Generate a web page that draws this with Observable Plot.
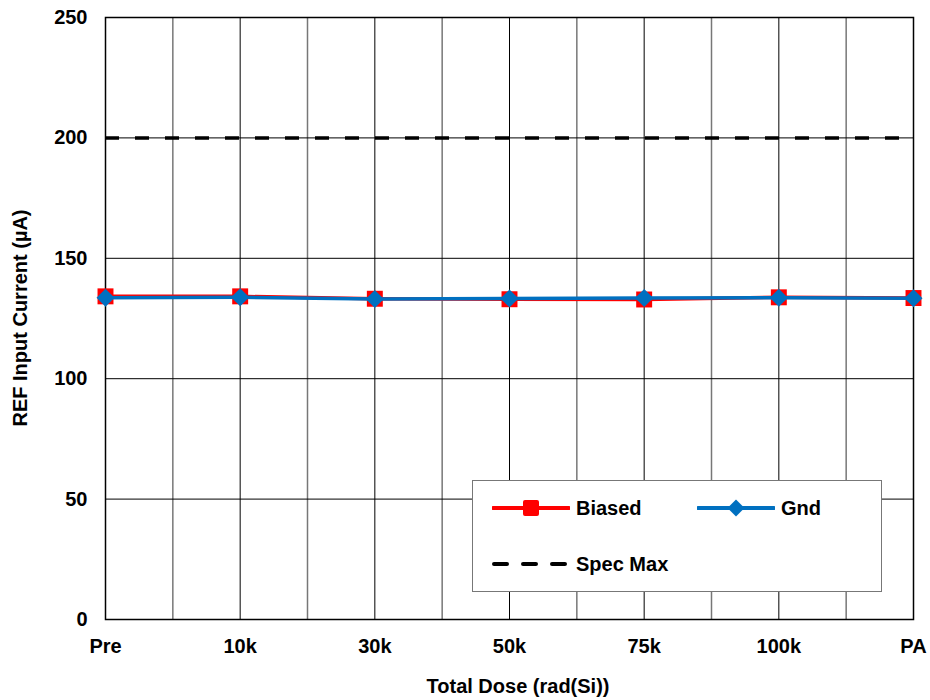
<!DOCTYPE html>
<html>
<head>
<meta charset="utf-8">
<script src="https://cdn.jsdelivr.net/npm/d3@7"></script>
<script src="https://cdn.jsdelivr.net/npm/@observablehq/plot@0.6"></script>
<style>
  html, body { margin: 0; padding: 0; background: #fff; }
  #wrap { position: relative; width: 930px; height: 700px; font-family: "Liberation Sans", Arial, sans-serif; font-weight: bold; }
  #chart svg { font-family: "Liberation Sans", Arial, sans-serif; font-weight: bold; }
  .ttl { position: absolute; font-size: 20px; font-weight: bold; color: #000; white-space: nowrap; }
  #legend { position: absolute; left: 472px; top: 480px; width: 408px; height: 110px; border: 1px solid #777; background: #fff; }
  .item { position: absolute; display: flex; align-items: center; font-size: 20px; font-weight: bold; }
  .item svg { margin-right: 6px; }
</style>
</head>
<body>
<div id="wrap">
  <div id="chart"></div>
  <div class="ttl" id="ylab" style="left: 20px; top: 318px; transform: translate(-50%, -50%) rotate(-90deg);">REF Input Current (µA)</div>
  <div class="ttl" id="xlab" style="left: 518px; top: 686px; transform: translate(-50%, -50%);">Total Dose (rad(Si))</div>
  <div id="legend">
    <div class="item" style="left: 19px; top: 14px;">
      <svg width="78" height="26"><line x1="1" y1="13" x2="77" y2="13" stroke="#FF0000" stroke-width="4" stroke-linecap="round"/><rect x="31" y="5" width="16" height="16" rx="2" fill="#FF0000"/></svg>Biased
    </div>
    <div class="item" style="left: 224px; top: 14px;">
      <svg width="78" height="26"><line x1="1" y1="13" x2="77" y2="13" stroke="#0070C0" stroke-width="4" stroke-linecap="round"/><rect x="33" y="7" width="12" height="12" fill="#0070C0" transform="rotate(45 39 13)"/></svg>Gnd
    </div>
    <div class="item" style="left: 19px; top: 70px;">
      <svg width="78" height="26"><line x1="2" y1="13" x2="77" y2="13" stroke="#000" stroke-width="4" stroke-linecap="round" stroke-dasharray="13,16"/></svg>Spec Max
    </div>
  </div>
</div>
<script>
const categories = ["Pre", "10k", "30k", "50k", "75k", "100k", "PA"];
const biased = [134.2, 134.2, 133.2, 133.0, 132.9, 133.8, 133.5];
const gnd = [133.6, 133.8, 133.1, 133.3, 133.5, 133.6, 133.4];
const specMax = 200;
const yTicks = [0, 50, 100, 150, 200, 250];

const idx = categories.map((c, i) => i);
const mids = d3.range(categories.length - 1).map(i => i + 0.5);
const biasedData = biased.map((v, i) => ({i, v}));
const gndData = gnd.map((v, i) => ({i, v}));

const plot = Plot.plot({
  width: 930,
  height: 700,
  marginLeft: 105,
  marginRight: 17,
  marginTop: 17,
  marginBottom: 81,
  style: {fontSize: "20px", fontWeight: "bold", fontFamily: "Liberation Sans, Arial, sans-serif", color: "#000", background: "#fff"},
  x: {type: "linear", domain: [0, categories.length - 1]},
  y: {domain: [0, 250]},
  marks: [
    Plot.ruleX(mids, {stroke: "#777", strokeWidth: 1.5, strokeOpacity: 1}),
    Plot.ruleX(idx, {stroke: "#000", strokeWidth: 1, strokeOpacity: 1}),
    Plot.ruleY(yTicks, {stroke: "#000", strokeWidth: 1, strokeOpacity: 1}),
    Plot.frame({stroke: "#000", strokeWidth: 1.5}),
    Plot.axisX({ticks: idx, tickSize: 0, tickPadding: 19, tickFormat: i => categories[i], label: null, fontSize: 20, fontWeight: "bold"}),
    Plot.axisY({ticks: yTicks, tickSize: 0, tickPadding: 18, label: null, fontSize: 20, fontWeight: "bold"}),
    Plot.ruleY([specMax], {stroke: "#000", strokeWidth: 3.5, strokeDasharray: "14,16"}),
    Plot.line(biasedData, {x: "i", y: "v", stroke: "#FF0000", strokeWidth: 3.5}),
    Plot.dot(biasedData, {x: "i", y: "v", symbol: "square", r: 9, fill: "#FF0000"}),
    Plot.line(gndData, {x: "i", y: "v", stroke: "#0070C0", strokeWidth: 3.5}),
    Plot.dot(gndData, {x: "i", y: "v", symbol: "square", r: 7.2, rotate: 45, fill: "#0070C0"})
  ]
});
document.getElementById("chart").appendChild(plot);
</script>
</body>
</html>
